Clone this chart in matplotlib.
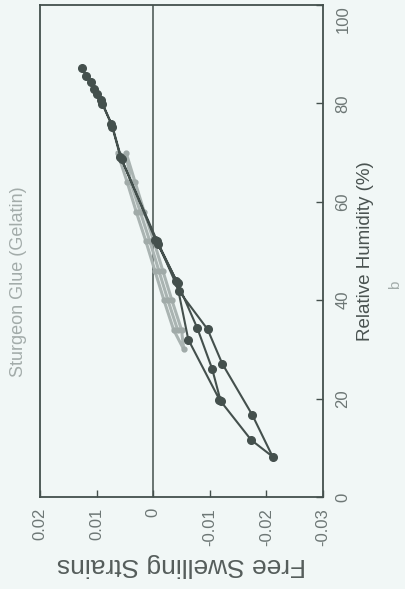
import matplotlib
matplotlib.use("Agg")
import matplotlib.pyplot as plt

plt.rcParams['font.family'] = ['Liberation Sans', 'DejaVu Sans']

# Sturgeon glue: free swelling strain against relative humidity (page turned sideways)
strain_ticks = [0.02, 0.01, 0.0, -0.01, -0.02, -0.03]
strain_ticklabels = ["0.02", "0.01", "0", "-0.01", "-0.02", "-0.03"]
rh_ticks = [0, 20, 40, 60, 80, 100]
rh_ticklabels = ["0", "20", "40", "60", "80", "100"]

# cycled specimen (dark markers)
dark_rh = [52.0, 69.2, 75.9, 80.6, 82.0, 84.3, 87.1, 85.6, 83.0, 79.9, 75.3, 68.7,
           52.3, 43.9, 32.0, 19.8, 11.6, 8.2, 16.7, 27.1, 34.1, 41.8, 51.5, 43.5,
           34.3, 26.1, 19.6]
dark_strain = [-0.0007, 0.0058, 0.0074, 0.0092, 0.0099, 0.0110, 0.0126, 0.0118, 0.0104,
               0.0090, 0.0072, 0.0056, -0.0004, -0.0041, -0.0062, -0.0117, -0.0173,
               -0.0211, -0.0175, -0.0122, -0.0096, -0.0046, -0.0009, -0.0043, -0.0078,
               -0.0104, -0.0119]

# narrow-range cycles (light markers)
light_rh = [70, 64, 58, 52, 46, 40, 34, 30, 34, 40, 46, 52, 58, 64, 70,
            64, 58, 52, 46, 40, 34]
light_strain = [0.0063, 0.0046, 0.0030, 0.0013, -0.0003, -0.0019, -0.0036, -0.0054,
                -0.0050, -0.0033, -0.0017, -0.0001, 0.0016, 0.0032, 0.0048,
                0.0040, 0.0023, 0.0006, -0.0010, -0.0026, -0.0043]

paper = "#f1f7f6"
ink = "#44504d"
grey_ink = "#6d7775"

fig = plt.figure(figsize=(4.06, 5.89), dpi=100, facecolor=paper)
ax = fig.add_axes([40 / 406, (589 - 497) / 589, 283 / 406, 492 / 589])
ax.set_facecolor(paper)

ax.plot(light_strain, light_rh, color="#aab4b2", lw=2.2, marker="o", ms=3.5,
        mfc="#a0aaa8", mec="#a0aaa8", zorder=2)
ax.plot(dark_strain, dark_rh, color=ink, lw=1.5, marker="o", ms=5.5,
        mfc=ink, mec=ink, zorder=3)
ax.axvline(0, color=ink, lw=1.1, zorder=1)

ax.set_xlim(0.02, -0.03)
ax.set_ylim(0, 100)
ax.set_xticks(strain_ticks)
ax.set_xticklabels(strain_ticklabels)
ax.set_yticks(rh_ticks)
ax.set_yticklabels(rh_ticklabels)
ax.yaxis.tick_right()
ax.yaxis.set_label_position("right")

for sp in ax.spines.values():
    sp.set_color(ink)
    sp.set_linewidth(1.3)

ax.tick_params(axis="x", direction="in", length=5, width=1, color=ink,
               labelrotation=90, pad=8, labelsize=12, labelcolor=grey_ink)
ax.tick_params(axis="y", direction="in", length=5, width=1, color=ink,
               labelrotation=90, pad=9, labelsize=12, labelcolor=grey_ink)
ylabels = ax.get_yticklabels()
for lab in ylabels:
    lab.set_verticalalignment("center")
# keep the top label inside the page
ylabels[-1].set_verticalalignment("top")

ax.set_xlabel("Free Swelling Strains", rotation=180, fontsize=19,
              color="#555d5b", labelpad=5)
ax.set_ylabel("Relative Humidity (%)", rotation=90, fontsize=13.5,
              color="#4a5351", labelpad=5)

fig.text(19 / 406, 1 - 282 / 589, "Sturgeon Glue (Gelatin)", rotation=90,
         ha="center", va="center", fontsize=13, color="#a3acaa")
fig.text(395 / 406, 1 - 285 / 589, "b", rotation=90,
         ha="center", va="center", fontsize=11, color="#a3acaa")

fig.savefig("out.png", dpi=100, facecolor=paper)
